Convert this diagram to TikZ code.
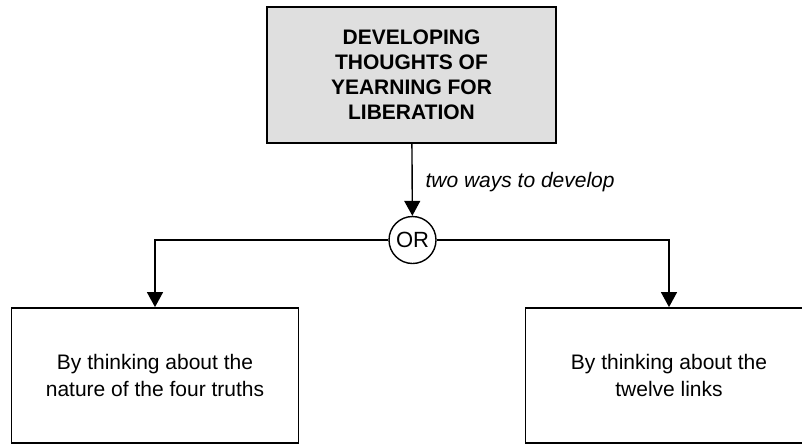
\documentclass[tikz,border=0pt]{standalone}
\usepackage{fontspec}
\setmainfont{Liberation Sans}
\usepackage{tikz}
\usetikzlibrary{shapes.geometric, arrows.meta}
\tikzstyle{goal} = [rectangle, minimum width=144.5pt, minimum height=68pt, text centered, align=center, draw=black, line width=0.9pt, fill=gray!25, font=\bfseries\fontsize{10.5}{12.5}\selectfont]
\tikzstyle{gate} = [circle, minimum size=23.5pt, inner sep=0pt, draw=black, line width=0.7pt, font=\fontsize{11}{13}\selectfont]
\tikzstyle{way} = [rectangle, minimum width=143.5pt, minimum height=67.5pt, text centered, align=center, draw=black, line width=0.9pt, font=\fontsize{10.5}{13.5}\selectfont]
\tikzstyle{arrow} = [line width=0.7pt,->,>={Triangle[length=7.5pt,width=8pt]}]

\begin{document}
\begin{tikzpicture}[x=0.5pt,y=0.5pt]
	\clip (0,0) rectangle (802,-445);
	\node (yearning) [goal] at (411.5,-75) {DEVELOPING\\THOUGHTS OF\\YEARNING FOR\\LIBERATION};
	\node (orgate) [gate, below of=yearning, node distance=82.5pt, xshift=0.5pt] {OR};
	\node (truths) [way, below of=orgate, node distance=67.75pt, xshift=-128.75pt] {By thinking about the\\nature of the four truths};
	\node (links) [way, below of=orgate, node distance=67.75pt, xshift=128.25pt] {By thinking about the\\twelve links};

	\draw [arrow] (yearning) -- node[right, xshift=3pt, yshift=-1pt, font=\itshape\fontsize{10.5}{12.5}\selectfont] {two ways to develop} (orgate);
	\draw [arrow] (orgate.west) -| (truths);
	\draw [arrow] (orgate.east) -| (links);
\end{tikzpicture}
\end{document}
